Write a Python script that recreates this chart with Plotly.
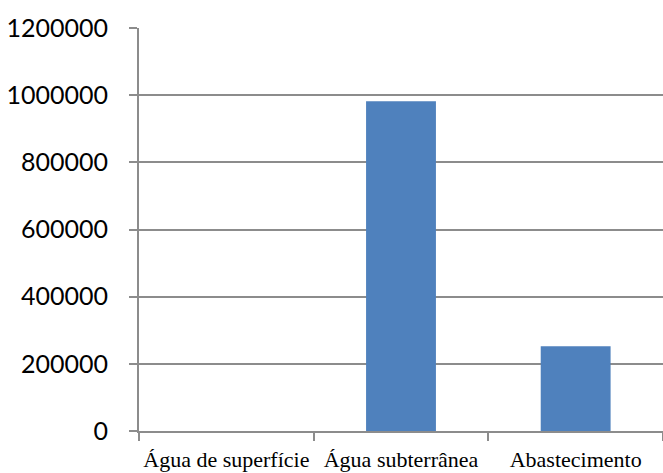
import plotly.graph_objects as go

categories = ["Água de superfície", "Água subterrânea", "Abastecimento"]
values = [0, 982000, 252000]
y_ticks = [0, 200000, 400000, 600000, 800000, 1000000, 1200000]

fig = go.Figure(go.Bar(
    x=categories, y=values,
    marker=dict(color="#4F81BD", line=dict(width=0)),
))

fig.update_layout(
    width=663, height=473,
    margin=dict(l=139, r=0, t=28, b=42),
    paper_bgcolor="white", plot_bgcolor="white",
    bargap=0.6, showlegend=False,
)
fig.update_yaxes(
    range=[0, 1200000], tickvals=y_ticks, ticktext=[str(v) for v in y_ticks],
    showgrid=True, gridcolor="#8C8C8C", gridwidth=2,
    showline=True, linecolor="#8C8C8C", linewidth=2,
    ticks="outside", ticklen=8, tickcolor="#8C8C8C", tickwidth=2,
    ticklabelstandoff=16,
    tickfont=dict(family="Lato, Carlito, sans-serif", size=25, color="black"),
    zeroline=False, automargin=False,
)
fig.update_xaxes(
    showline=True, linecolor="#8C8C8C", linewidth=2,
    ticks="outside", ticklen=8, tickcolor="#8C8C8C", tickwidth=2,
    tickson="boundaries", showgrid=False, tickangle=0,
    tickfont=dict(family="Liberation Serif, Times New Roman, serif", size=22, color="black"),
    ticklabelstandoff=8,
    automargin=False,
)
fig.write_html("out.html", config={"displayModeBar": False},
               post_script="document.body.style.margin='0';")
